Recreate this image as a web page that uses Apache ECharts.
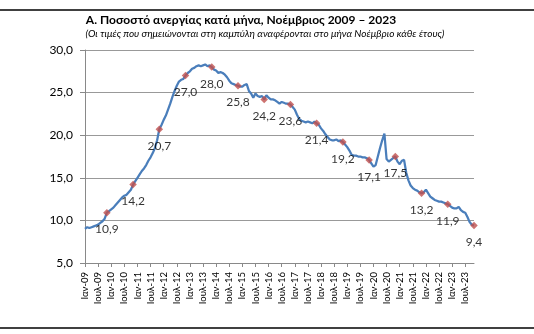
<!DOCTYPE html>
<html>
<head>
<meta charset="utf-8">
<script src="https://cdn.jsdelivr.net/npm/echarts@6/dist/echarts.min.js"></script>
<style>html,body{margin:0;padding:0;background:#fff;}#c{width:534px;height:334px;}</style>
</head>
<body>
<div id="c"></div>
<script>
// Monthly unemployment rate (%), Jan..Dec per year (2023 ends in Nov)
var u2009 = [9.0, 9.2, 9.1, 9.2, 9.3, 9.4, 9.5, 9.7, 9.9, 10.2, 10.9, 11.1];
var u2010 = [11.3, 11.5, 11.8, 12.1, 12.4, 12.7, 12.9, 13.0, 13.3, 13.6, 14.2, 14.6];
var u2011 = [15.0, 15.4, 15.8, 16.1, 16.5, 17.0, 17.4, 17.9, 18.5, 19.4, 20.7, 21.2];
var u2012 = [21.8, 22.3, 23.0, 23.7, 24.5, 25.2, 25.8, 26.3, 26.5, 26.6, 27.0, 27.3];
var u2013 = [27.5, 27.8, 27.9, 28.1, 28.2, 28.1, 28.2, 28.3, 28.1, 28.2, 28.0, 27.7];
var u2014 = [27.6, 27.3, 27.4, 27.3, 27.1, 26.8, 26.4, 26.1, 26.0, 25.9, 25.8, 25.7];
var u2015 = [25.7, 25.9, 26.0, 25.2, 24.9, 24.4, 24.9, 24.6, 24.5, 24.6, 24.2, 24.7];
var u2016 = [24.4, 24.2, 24.2, 24.1, 23.9, 23.7, 23.9, 23.8, 23.7, 23.7, 23.6, 23.3];
var u2017 = [23.0, 22.4, 21.9, 21.7, 21.6, 21.5, 21.6, 21.5, 21.4, 21.6, 21.4, 21.2];
var u2018 = [20.8, 20.5, 20.1, 19.8, 19.5, 19.4, 19.4, 19.5, 19.3, 19.4, 19.2, 18.9];
var u2019 = [18.6, 18.2, 17.7, 17.6, 17.6, 17.5, 17.5, 17.4, 17.4, 17.3, 17.1, 16.7];
var u2020 = [16.3, 16.5, 17.5, 18.5, 19.4, 20.2, 17.2, 16.9, 17.1, 17.3, 17.5, 16.9];
var u2021 = [16.6, 17.0, 17.1, 15.6, 14.7, 14.1, 13.8, 13.6, 13.5, 13.3, 13.2, 13.3];
var u2022 = [13.6, 13.2, 12.8, 12.6, 12.4, 12.3, 12.2, 12.2, 12.1, 12.0, 11.9, 11.7];
var u2023 = [11.5, 11.4, 11.4, 11.6, 11.2, 11.0, 10.9, 10.4, 9.8, 9.5, 9.4];

var years = [2009,2010,2011,2012,2013,2014,2015,2016,2017,2018,2019,2020,2021,2022,2023];
var monthNames = ['Ιαν','Φεβ','Μαρ','Απρ','Μαϊ','Ιουν','Ιουλ','Αυγ','Σεπ','Οκτ','Νοε','Δεκ'];
var yearly = [u2009,u2010,u2011,u2012,u2013,u2014,u2015,u2016,u2017,u2018,u2019,u2020,u2021,u2022,u2023];
var yTicks = [5, 10, 15, 20, 25, 30];

var categories = [], values = [], novValues = [];
yearly.forEach(function (arr, yi) {
  arr.forEach(function (v, mi) {
    categories.push(monthNames[mi] + '-' + String(years[yi]).slice(2));
    values.push(v);
    novValues.push(mi === 10 ? v : '-');
  });
});

function fmt(v) { return Number(v).toFixed(1).replace('.', ','); }

var chart = echarts.init(document.getElementById('c'), null, {renderer: 'canvas'});
chart.setOption({
  animation: false,
  backgroundColor: '#ffffff',
  textStyle: {fontFamily: 'Lato'},
  grid: {left: 85, right: 60, top: 50, bottom: 71, containLabel: false},
  graphic: [
    {type: 'line', shape: {x1: 0, y1: 10, x2: 534, y2: 10}, style: {stroke: '#000', lineWidth: 1.5}},
    {type: 'line', shape: {x1: 0, y1: 328, x2: 534, y2: 328}, style: {stroke: '#000', lineWidth: 1.5}},
    {type: 'text', x: 241, y: 20, style: {text: 'Α. Ποσοστό ανεργίας κατά μήνα, Νοέμβριος 2009 – 2023', font: 'bold 12px Lato', fill: '#000', textAlign: 'center', textVerticalAlign: 'middle'}},
    {type: 'text', x: 265, y: 34, style: {text: '(Οι τιμές που σημειώνονται στη καμπύλη αναφέρονται στο μήνα Νοέμβριο κάθε έτους)', font: 'italic 10px Lato', fill: '#000', textAlign: 'center', textVerticalAlign: 'middle'}}
  ],
  xAxis: {
    type: 'category',
    data: categories,
    boundaryGap: false,
    axisLine: {lineStyle: {color: '#898989', width: 1}},
    axisTick: {interval: 5, length: 4, lineStyle: {color: '#898989'}},
    axisLabel: {interval: 5, rotate: 90, fontSize: 9.5, color: '#000', margin: 9, fontFamily: 'Lato'},
    splitLine: {show: false}
  },
  yAxis: {
    type: 'value',
    min: yTicks[0], max: yTicks[yTicks.length - 1], interval: 5,
    axisLine: {show: true, lineStyle: {color: '#898989', width: 1}},
    axisTick: {show: true, length: 5, lineStyle: {color: '#898989'}},
    axisLabel: {formatter: fmt, fontSize: 12, color: '#000', margin: 12, fontFamily: 'Lato'},
    splitLine: {lineStyle: {color: '#999999', width: 1}}
  },
  series: [
    {
      type: 'line', data: values, symbol: 'none', smooth: false,
      lineStyle: {color: '#4A7EBB', width: 2.25}, z: 2
    },
    {
      type: 'scatter', data: novValues, symbol: 'diamond', symbolSize: 7.5,
      itemStyle: {color: '#C0504D'}, z: 3,
      label: {show: true, position: 'bottom', distance: 7, formatter: function (p) { return fmt(p.value); },
              fontSize: 12, color: '#000', fontFamily: 'Lato'}
    }
  ]
});
</script>
</body>
</html>
